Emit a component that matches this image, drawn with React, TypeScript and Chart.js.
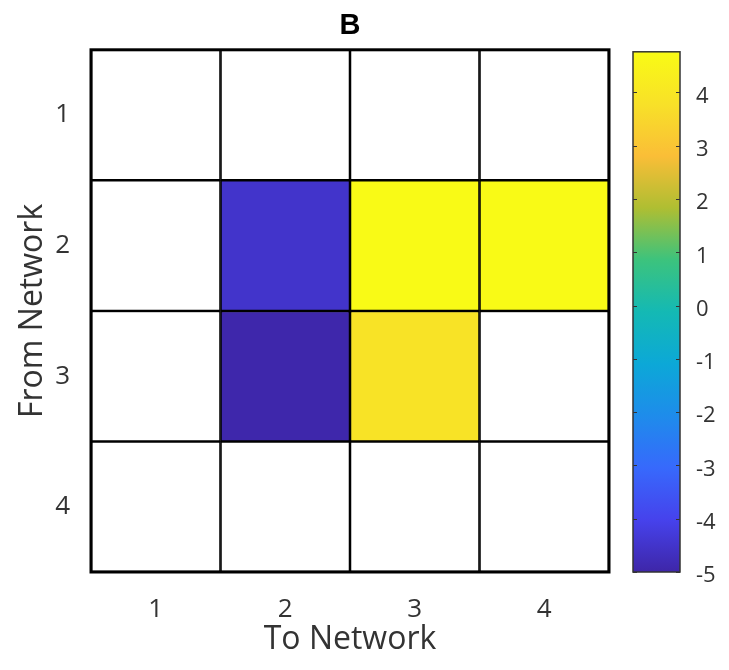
import React, { useEffect, useRef } from "react";
import { Chart, registerables } from "chart.js";

Chart.register(...registerables);

// ---- data ----
const toNetwork = ["1", "2", "3", "4"]; // columns (x)
const fromNetwork = [1, 2, 3, 4]; // rows (y)
const row1: (number | null)[] = [null, null, null, null];
const row2: (number | null)[] = [null, -4.5, 4.75, 4.75];
const row3: (number | null)[] = [null, -4.95, 3.9, null];
const row4: (number | null)[] = [null, null, null, null];
const rows = [row1, row2, row3, row4];
const cbMin = -5;
const cbMax = 4.8;
const cbTicks = [-5, -4, -3, -2, -1, 0, 1, 2, 3, 4];
const titleText = "B";

// parula-like colormap stops
const parula: [number, number, number][] = [
  [62, 38, 168],
  [70, 66, 236],
  [55, 105, 252],
  [30, 140, 235],
  [12, 168, 215],
  [20, 185, 180],
  [60, 195, 125],
  [175, 190, 50],
  [250, 190, 55],
  [248, 225, 40],
  [249, 251, 21],
];

function colorFor(v: number | null): string {
  if (v === null || v === undefined) return "#ffffff";
  let t = (v - cbMin) / (cbMax - cbMin);
  t = Math.max(0, Math.min(1, t));
  const p = t * (parula.length - 1);
  const i = Math.min(parula.length - 2, Math.floor(p));
  const f = p - i;
  const a = parula[i], b = parula[i + 1];
  const c = a.map((x, k) => Math.round(x + (b[k] - x) * f));
  return `rgb(${c[0]},${c[1]},${c[2]})`;
}

const FONT = "'Open Sans', 'DejaVu Sans', sans-serif";

const extrasPlugin = {
  id: "extras",
  afterDraw(chart: any) {
    const { ctx, chartArea: a } = chart;
    const cb = chart.scales.cb;
    ctx.save();
    ctx.strokeStyle = "#000";
    ctx.lineWidth = 3;
    ctx.strokeRect(a.left, a.top, a.right - a.left, a.bottom - a.top);

    const x0 = a.right + 24;
    const x1 = a.right + 71;
    const yTop = cb.getPixelForValue(cbMax) + 2;
    const yBot = cb.getPixelForValue(cbMin);
    const g = ctx.createLinearGradient(0, yBot, 0, yTop);
    parula.forEach((c, i) =>
      g.addColorStop(i / (parula.length - 1), `rgb(${c[0]},${c[1]},${c[2]})`)
    );
    ctx.fillStyle = g;
    ctx.fillRect(x0, yTop, x1 - x0, yBot - yTop);
    ctx.lineWidth = 1.5;
    ctx.strokeStyle = "#333";
    ctx.strokeRect(x0, yTop, x1 - x0, yBot - yTop);
    ctx.lineWidth = 1;
    cbTicks.forEach((v) => {
      const y = Math.round(cb.getPixelForValue(v)) + 0.5;
      ctx.beginPath();
      ctx.moveTo(x1, y);
      ctx.lineTo(x1 - 4, y);
      ctx.moveTo(x0, y);
      ctx.lineTo(x0 + 4, y);
      ctx.stroke();
    });
    ctx.restore();
  },
};

export default function App() {
  const ref = useRef<HTMLCanvasElement | null>(null);
  useEffect(() => {
    if (!ref.current) return;
    const datasets = rows.map((row, r) => ({
      label: `From ${fromNetwork[r]}`,
      data: toNetwork.map(() => [fromNetwork[r] - 0.5, fromNetwork[r] + 0.5]),
      backgroundColor: row.map((v) => colorFor(v)),
      borderColor: "#000",
      borderWidth: 1.6,
      borderSkipped: false,
      barPercentage: 1,
      categoryPercentage: 1,
      grouped: false,
      yAxisID: "y",
      xAxisID: "x",
    }));
    const chart = new Chart(ref.current, {
      type: "bar",
      data: { labels: toNetwork, datasets: datasets as any },
      plugins: [extrasPlugin],
      options: {
        animation: false,
        responsive: true,
        maintainAspectRatio: false,
        layout: { padding: 0 },
        plugins: {
          legend: { display: false },
          tooltip: { enabled: false },
          title: {
            display: true,
            text: titleText,
            fullSize: false,
            color: "#000",
            font: { family: "'Liberation Sans', Arial, sans-serif", size: 29, weight: "bold" },
            padding: { top: 9, bottom: 6 },
          },
        },
        scales: {
          x: {
            type: "category",
            grid: { display: false },
            border: { display: false },
            ticks: { color: "#333", font: { family: FONT, size: 26 }, padding: 14 },
            title: {
              display: true,
              text: "To Network",
              color: "#333",
              font: { family: FONT, size: 32 },
              padding: { top: 0, bottom: 11 },
            },
            afterFit(s: any) {
              s.height = 98;
              s.paddingLeft = 0;
              s.paddingRight = 0;
            },
          },
          y: {
            type: "linear",
            reverse: true,
            min: 0.5,
            max: 4.5,
            grid: { display: false },
            border: { display: false },
            afterBuildTicks(s: any) {
              s.ticks = fromNetwork.map((v) => ({ value: v }));
            },
            ticks: { color: "#333", font: { family: FONT, size: 26 }, padding: 13 },
            title: {
              display: true,
              text: "From Network",
              color: "#333",
              font: { family: FONT, size: 32 },
              padding: { top: 14, bottom: 0 },
            },
            afterFit(s: any) {
              s.width = 91;
              s.paddingTop = 0;
              s.paddingBottom = 0;
            },
          },
          cb: {
            type: "linear",
            position: "right",
            min: cbMin,
            max: cbMax,
            grid: { display: false },
            border: { display: false },
            afterBuildTicks(s: any) {
              s.ticks = cbTicks.map((v) => ({ value: v }));
            },
            ticks: { color: "#333", font: { family: FONT, size: 22 }, padding: 79, labelOffset: 4 },
            afterFit(s: any) {
              s.width = 120;
              s.paddingTop = 0;
              s.paddingBottom = 0;
            },
          },
        },
      } as any,
    });
    return () => chart.destroy();
  }, []);
  return (
    <div style={{ position: "fixed", left: 0, top: 0, width: 729, height: 670, background: "#fff" }}>
      <canvas ref={ref} />
    </div>
  );
}
